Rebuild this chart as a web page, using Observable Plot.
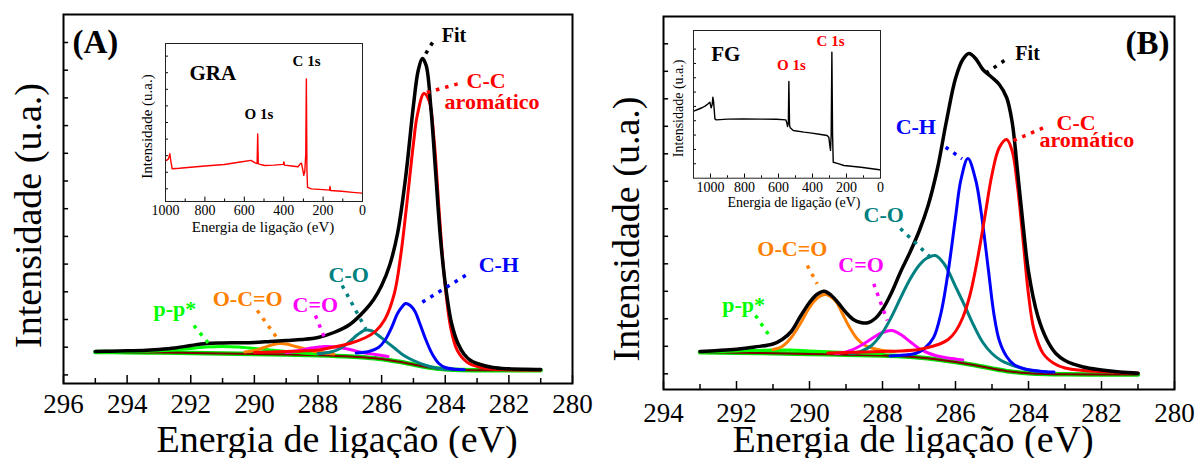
<!DOCTYPE html>
<html><head><meta charset="utf-8">
<script src="https://cdn.jsdelivr.net/npm/d3@7"></script>
<script src="https://cdn.jsdelivr.net/npm/@observablehq/plot@0.6"></script>
<style>
html,body{margin:0;padding:0;background:#fff;}
#wrap{position:relative;width:1196px;height:458px;overflow:hidden;background:#fff;}
#wrap svg{position:absolute;overflow:visible;max-width:none;}
</style></head><body><div id="wrap"></div>
<script>
// ---------- Panel A (GRA) : [binding energy eV, intensity a.u.] ----------
const fitA = [[295,32],[294.5,32.3],[294,32.7],[293.5,33],[293,34],[292.5,35.5],[292,38],[291.5,40],[291,40.5],[290.5,40.7],[290,41],[289.5,42],[289,43],[288.5,44],[288,46],[287.5,51],[287,59],[286.5,74],[286.25,84],[286,98],[285.75,118],[285.5,150],[285.25,205],[285,278],[284.85,313],[284.72,325],[284.6,318],[284.45,275],[284.3,210],[284.15,145],[284,100],[283.8,60],[283.6,40],[283.4,29],[283.2,23],[283,20],[282.5,16],[282,14.7],[281.5,14.2],[281,14]];
const ccA = [[290,31],[289,32],[288.5,32.5],[288,33.5],[287.5,36.5],[287,40],[286.5,46],[286.2,52],[285.9,64],[285.6,90],[285.4,128],[285.2,182],[285,240],[284.88,268],[284.67,290],[284.51,283],[284.35,243],[284.2,176],[284.04,110],[283.83,56],[283.62,33],[283.3,21],[282.9,16.3],[282.5,14.5],[282,13.8],[281,13.5]];
const chA = [[286.8,30.5],[286.4,32],[286.1,36],[285.9,43],[285.7,55],[285.5,70],[285.35,77],[285.25,80],[285.1,78],[284.95,72],[284.8,60],[284.6,43],[284.4,29],[284.2,20],[284,16],[283.7,14.3],[283.4,13.8]];
const coA = [[288,30],[287.6,31.5],[287.3,35],[287,42],[286.75,49],[286.5,53.5],[286.3,52.5],[286.1,48],[285.9,43],[285.6,35.5],[285.3,28],[285,23],[284.6,18],[284.2,15],[283.8,13.8]];
const ocoA = [[290.3,31.5],[290,33],[289.7,36],[289.4,39],[289.2,40],[289,39.5],[288.7,37],[288.4,34.5],[288.1,32],[287.8,30.5],[287.5,29.5]];
const pipiA = [[295,31.8],[294,32],[293,32.8],[292.5,33.8],[292,35],[291.5,36.5],[291,37],[290.5,36.5],[290,35],[289.5,33.5],[289,32],[288.5,30.5],[288,29.5]];
const c2oA = [[289,31],[288.6,33],[288.2,35.5],[287.8,37],[287.4,36.5],[287,34],[286.6,31],[286.2,29],[285.8,27]];
const baseA = [[295,31.5],[294,31.3],[293,31],[292,30.5],[291,30],[290,29.5],[289,29],[288,28.2],[287,27],[286.5,26],[286,24.5],[285.5,22],[285,19],[284.5,16],[284,14.3],[283.5,13.5],[283,13.3],[282,13.2],[281,13.2]];
const labelsA = [
  {t:"Fit", x:284.11, y:347.5, c:"#000000", s:20},
  {t:"C-C", x:283.33, y:303, c:"#ff0000", s:22},
  {t:"aromático", x:284.02, y:282, c:"#ff0000", s:22},
  {t:"C-H", x:282.95, y:118.3, c:"#0000ff", s:22},
  {t:"C-O", x:287.67, y:108.3, c:"#008080", s:22},
  {t:"C=O", x:288.8, y:78.3, c:"#ff00ff", s:22},
  {t:"O-C=O", x:291.31, y:85, c:"#ff8000", s:22},
  {t:"p-p*", x:293.17, y:75, c:"#00ff00", s:22}
];
const leadersA = [
  {x1:284.4, y1:341, x2:284.65, y2:328, c:"#000000"},
  {x1:284.58, y1:291, x2:283.45, y2:301, c:"#ff0000"},
  {x1:284.72, y1:81.3, x2:283.2, y2:111.3, c:"#0000ff"},
  {x1:287.24, y1:98, x2:286.5, y2:54.7, c:"#008080"},
  {x1:288.08, y1:68, x2:287.76, y2:43, c:"#ff00ff"},
  {x1:289.91, y1:73, x2:289.23, y2:43, c:"#ff8000"},
  {x1:291.9, y1:58, x2:291.43, y2:39.7, c:"#00ff00"}
];
const majorXA = [296,294,292,290,288,286,284,282,280];
const minorXA = [295,293,291,289,287,285,283,281];
const yTicksA = [8.6,36.3,64,91.7,119.4,147.1,174.8,202.5,230.2,257.9,285.6,313.3,341];

// ---------- Panel B (FG) ----------
const fitB = [[293,38],[292.5,39],[292,40.3],[291.5,42.5],[291,45.5],[290.75,50],[290.5,58],[290.25,73],[290,87],[289.8,95],[289.6,98.3],[289.4,94],[289.2,86],[289,77],[288.8,70],[288.6,67],[288.4,66.7],[288.2,71],[288,80],[287.75,97],[287.5,118],[287.25,137],[287,158],[286.75,184],[286.5,220],[286.25,268],[286,311],[285.8,330],[285.63,336],[285.45,331],[285.25,320],[285,312],[284.8,305],[284.6,292],[284.45,268],[284.3,218],[284.15,165],[284,118],[283.75,74],[283.5,50],[283.25,36],[283,29],[282.5,22.5],[282,19.5],[281.5,17.5],[281,16.3]];
const ccB = [[289.5,36.5],[289,37],[288.5,37.5],[288,38],[287.5,38.5],[287,40],[286.7,42.5],[286.4,46],[286.2,50],[286,58],[285.8,72],[285.6,95],[285.4,130],[285.2,172],[285,215],[284.8,242],[284.6,250],[284.45,239],[284.3,203],[284.15,150],[284,95],[283.85,60],[283.6,36],[283.3,26],[283,21.5],[282.5,19],[282,18],[281.5,17],[281,16.5]];
const chB = [[287.8,33.5],[287.4,34.5],[287.1,36],[286.85,41],[286.6,52],[286.4,76],[286.2,118],[286,172],[285.85,210],[285.66,231],[285.45,210],[285.3,178],[285.1,120],[284.95,76],[284.8,49],[284.6,33],[284.4,25],[284.1,20.5],[283.7,18.3],[283.3,17.5]];
const coB = [[288.9,36],[288.6,38],[288.3,44],[288,57],[287.75,73],[287.5,92],[287.25,110],[287,124],[286.8,131],[286.55,134],[286.3,125],[286,103],[285.75,84],[285.5,64],[285.25,47],[285,36],[284.75,29],[284.5,25],[284,19.5],[283.5,17.5]];
const ocoB = [[291,40],[290.75,43],[290.5,52],[290.25,66],[290,82],[289.8,91],[289.56,95],[289.3,89],[289.1,76],[288.9,62],[288.7,51],[288.5,44.5],[288.25,41],[288,39],[287.7,38]];
const c2oB = [[289.3,36],[289,37.5],[288.75,41],[288.5,46],[288.25,52],[288,57],[287.75,59],[287.5,55],[287.25,48],[287,41],[286.75,36.5],[286.5,33.5],[286.2,31.5],[285.8,29.5]];
const pipiB = [[293,37.5],[292,38.5],[291,39.5],[290.5,39.5],[290,38.5],[289,37],[288,36]];
const baseB = [[293,37.3],[292,36.8],[291,36.3],[290,35.5],[289,34.8],[288,34],[287.5,33.3],[287,32],[286.5,30],[286,27.5],[285.5,24.5],[285,21],[284.5,18],[284,16.3],[283.5,15.5],[283,15.2],[282,15],[281,15]];
const labelsB = [
  {t:"Fit", x:284.36, y:335.5, c:"#000000", s:20},
  {t:"C-C", x:283.23, y:267, c:"#ff0000", s:22},
  {t:"aromático", x:283.7, y:249.3, c:"#ff0000", s:22},
  {t:"C-H", x:287.64, y:263, c:"#0000ff", s:22},
  {t:"C-O", x:288.52, y:174.3, c:"#008080", s:22},
  {t:"O-C=O", x:291.43, y:141, c:"#ff8000", s:22},
  {t:"C=O", x:289.21, y:124.3, c:"#ff00ff", s:22},
  {t:"p-p*", x:292.39, y:84.3, c:"#00ff00", s:22}
];
const leadersB = [
  {x1:284.66, y1:329, x2:285.18, y2:316, c:"#000000"},
  {x1:284.41, y1:249, x2:283.51, y2:263, c:"#ff0000"},
  {x1:286.27, y1:242.3, x2:285.82, y2:230.7, c:"#0000ff"},
  {x1:287.51, y1:161, x2:286.68, y2:132, c:"#008080"},
  {x1:290.06, y1:124, x2:289.79, y2:105.7, c:"#ff8000"},
  {x1:288.24, y1:105.7, x2:287.87, y2:69, c:"#ff00ff"},
  {x1:291.48, y1:74, x2:291.07, y2:52.3, c:"#00ff00"}
];
const majorXB = [294,292,290,288,286,284,282,280];
const minorXB = [293,291,289,287,285,283,281];
const yTicksB = [15.7,43.2,70.7,98.2,125.7,153.2,180.7,208.2,235.7,263.2,290.7,318.2,345.7];

// ---------- Insets: survey spectra ----------
const surveyA = [[995,26],[985,27],[978,30.2],[972,25],[966,20.7],[930,21],[872,21.7],[800,22.5],[702,23.4],[620,25],[566,26],[545,24.5],[535,24],[532,42.8],[529,24],[525,23.7],[497,22.8],[450,23],[402,23.5],[399,25],[396,23],[360,22.5],[327,22],[315,24],[310,24.3],[303,20],[298,16.5],[293,19],[288,30],[285,77.6],[282,20],[279,9],[259,8],[200,7.5],[168,7.2],[165,9.5],[162,7],[106,6.5],[50,5.8],[3,5.3]];
const surveyB = [[1099,45.4],[1075,46.5],[1050,47.7],[1030,49],[1014,50.4],[1004,51.5],[996,47.7],[990,50],[986,54.8],[982,52],[974,40.2],[966,39.5],[900,40],[811,40.2],[700,40],[612,39.9],[557,39.5],[550,37],[547,35],[542,38],[539,65.5],[535,36],[531,34.1],[513,32.3],[450,31.2],[414,30.7],[360,29.8],[314,28.9],[304,27.8],[298,22],[294,18.8],[290,30],[286,85.3],[282,30],[278,10.8],[254,10],[215,8.6],[115,7.4],[6,5.7]];
const insetLabelsA = [
  {t:"GRA", x:878, y:81, c:"#000000", s:21},
  {t:"O 1s", x:599, y:55.3, c:"#000000", s:15},
  {t:"C 1s", x:355, y:88.8, c:"#000000", s:15}
];
const insetLabelsB = [
  {t:"FG", x:996, y:83.8, c:"#000000", s:21},
  {t:"O 1s", x:609, y:76.5, c:"#ff0000", s:15},
  {t:"C 1s", x:376, y:92.8, c:"#ff0000", s:15}
];
const insetMajorA = [1000,800,600,400,200,0];
const insetMinorA = [900,700,500,300,100];
const insetYA = [8,18.5,29,39.5,50,60.5,71,81.5,92];
const insetMajorB = [1000,800,600,400,200,0];
const insetMinorB = [1100,900,700,500,300,100];
const insetYB = [9.8,19.5,29.2,38.9,48.6,58.3,68,77.7,87.4];

const xTitle = "Energia de ligação (eV)";
const yTitle = "Intensidade (u.a.)";
const FONT = "'Liberation Serif','Times New Roman',serif";

const X = d => d[0], Y = d => d[1];
function curve(data, stroke, w) {
  return Plot.line(data, {x: X, y: Y, stroke, strokeWidth: w, curve: "catmull-rom", strokeLinejoin: "round", strokeLinecap: "round"});
}

function mainPanel(o) {
  return Plot.plot({
    width: 598, height: 458,
    marginLeft: o.ml, marginRight: o.mr, marginTop: o.mt, marginBottom: o.mb,
    style: {fontFamily: FONT, color: "#000", background: "transparent", overflow: "visible"},
    x: {domain: o.xd, axis: null},
    y: {domain: o.yd, axis: null},
    color: {type: "identity"},
    marks: [
      Plot.ruleX(o.major, {y1: 0, y2: 8, stroke: "#000", strokeWidth: 1.5}),
      Plot.ruleX(o.minor, {y1: 0, y2: 5, stroke: "#000", strokeWidth: 1.5}),
      Plot.ruleY(o.yt, {x1: o.xd[0], x2: o.xd[0] - o.ytl, stroke: "#000", strokeWidth: 1.5}),
      Plot.axisX(o.major, {tickSize: 0, tickPadding: o.tp, fontSize: 27, label: null, tickFormat: d => String(d)}),
      curve(o.base, "#00e000", 4.5),
      curve(o.base, "#800000", 2),
      curve(o.pipi, "#00ff00", 3),
      curve(o.oco, "#ff8000", 3),
      curve(o.c2o, "#ff00ff", 3),
      curve(o.co, "#008080", 3),
      curve(o.ch, "#0000ff", 3),
      curve(o.cc, "#ff0000", 3),
      curve(o.fit, "#000000", 3.5),
      Plot.link(o.leaders, {x1: "x1", y1: "y1", x2: "x2", y2: "y2", stroke: d => d.c, strokeWidth: 3.5, strokeDasharray: "3.5,6"}),
      Plot.text(o.labels, {x: "x", y: "y", text: "t", fill: d => d.c, fontSize: d => d.s, fontWeight: "bold", textAnchor: "start", lineAnchor: "middle"}),
      Plot.text([o.tag], {text: d => d, frameAnchor: o.tagAnchor, textAnchor: o.tagText, dx: o.tagDx, dy: o.tagDy, fontSize: 33, fontWeight: "bold", lineAnchor: "middle"}),
      Plot.text([xTitle], {text: d => d, frameAnchor: "bottom", textAnchor: "middle", dx: o.xtDx, dy: o.xtDy, fontSize: 38, lineAnchor: "middle"}),
      Plot.text([yTitle], {text: d => d, frameAnchor: "left", textAnchor: "middle", rotate: -90, dx: o.ytDx, dy: o.ytDy, fontSize: 38, lineAnchor: "middle"}),
      Plot.frame({stroke: "#000", strokeWidth: 2})
    ]
  });
}

function inset(o) {
  return Plot.plot({
    width: o.w, height: o.h,
    marginLeft: o.ml, marginRight: o.mr, marginTop: o.mt, marginBottom: o.mb,
    style: {fontFamily: FONT, color: "#000", background: "transparent", overflow: "visible"},
    x: {domain: o.xd, axis: null},
    y: {domain: [0, 100], axis: null},
    color: {type: "identity"},
    marks: [
      Plot.ruleX(o.major, {y1: 0, y2: 2.8, stroke: "#000", strokeWidth: 1}),
      Plot.ruleX(o.minor, {y1: 0, y2: 1.6, stroke: "#000", strokeWidth: 1}),
      Plot.ruleY(o.yt, {x1: o.xd[0], x2: o.xd[0] - o.ytl, stroke: "#000", strokeWidth: 1}),
      Plot.axisX(o.major, {tickSize: 0, tickPadding: 4, fontSize: 14, label: null, tickFormat: d => String(d)}),
      Plot.line(o.data, {x: X, y: Y, stroke: o.color, strokeWidth: 1.4}),
      Plot.text(o.labels, {x: "x", y: "y", text: "t", fill: d => d.c, fontSize: d => d.s, fontWeight: "bold", textAnchor: "start", lineAnchor: "middle"}),
      Plot.text([xTitle], {text: d => d, frameAnchor: "bottom", textAnchor: "middle", dx: o.xtDx, dy: o.xtDy, fontSize: o.fs, lineAnchor: "middle"}),
      Plot.text([yTitle], {text: d => d, frameAnchor: "left", textAnchor: "middle", rotate: -90, dx: o.ytDx, dy: o.ytDy, fontSize: o.fs, lineAnchor: "middle"}),
      Plot.frame({stroke: "#222", strokeWidth: 1})
    ]
  });
}

const wrap = document.getElementById("wrap");
function place(svg, left, top) { svg.style.left = left + "px"; svg.style.top = top + "px"; wrap.appendChild(svg); }

place(mainPanel({
  ml: 63, mr: 26, mt: 14, mb: 75, xd: [296, 280], yd: [0, 369],
  major: majorXA, minor: minorXA, yt: yTicksA, ytl: 0.16, tp: 10,
  base: baseA, pipi: pipiA, oco: ocoA, c2o: c2oA, co: coA, ch: chA, cc: ccA, fit: fitA,
  leaders: leadersA, labels: labelsA,
  tag: "(A)", tagAnchor: "top-left", tagText: "start", tagDx: 9, tagDy: 28,
  xtDx: 19, xtDy: 56, ytDx: -35, ytDy: 16.5
}), 0, 0);

place(mainPanel({
  ml: 65, mr: 22, mt: 16, mb: 69, xd: [294, 280], yd: [0, 373],
  major: majorXB, minor: minorXB, yt: yTicksB, ytl: 0.14, tp: 13,
  base: baseB, pipi: pipiB, oco: ocoB, c2o: c2oB, co: coB, ch: chB, cc: ccB, fit: fitB,
  leaders: leadersB, labels: labelsB,
  tag: "(B)", tagAnchor: "top-right", tagText: "end", tagDx: -5, tagDy: 27,
  xtDx: -6, xtDy: 50, ytDx: -37, ytDy: 26
}), 598, 0);

place(inset({
  w: 240, h: 240, ml: 35, mr: 8, mt: 23, mb: 59, xd: [1000, 0],
  major: insetMajorA, minor: insetMinorA, yt: insetYA, ytl: 15,
  data: surveyA, color: "#ff0000", labels: insetLabelsA, fs: 15,
  xtDx: -1, xtDy: 26, ytDx: -18, ytDy: 4
}), 130, 20);

place(inset({
  w: 240, h: 215, ml: 38, mr: 15, mt: 20, mb: 47.3, xd: [1100, 0],
  major: insetMajorB, minor: insetMinorB, yt: insetYB, ytl: 17.6,
  data: surveyB, color: "#000000", labels: insetLabelsB, fs: 14,
  xtDx: 7, xtDy: 24, ytDx: -15, ytDy: 4
}), 655, 10);
</script></body></html>
